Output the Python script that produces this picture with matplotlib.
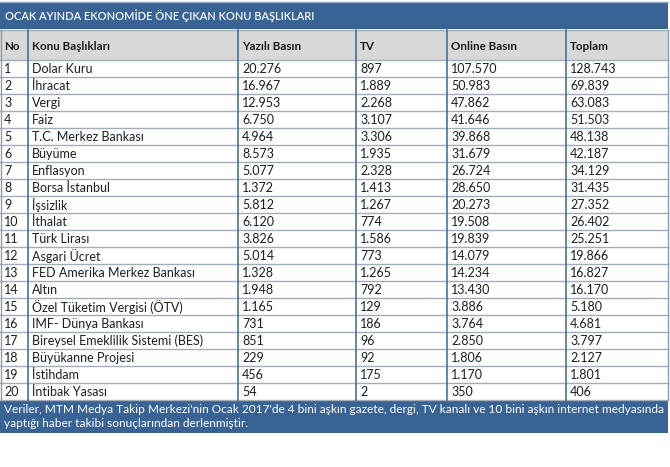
import matplotlib
matplotlib.use("Agg")
import matplotlib.pyplot as plt
from matplotlib.patches import Rectangle

title = "OCAK AYINDA EKONOMİDE ÖNE ÇIKAN KONU BAŞLIKLARI"
headers = ["No", "Konu Başlıkları", "Yazılı Basın", "TV", "Online Basın", "Toplam"]
numbers = [str(i) for i in range(1, 21)]
topics = ["Dolar Kuru", "İhracat", "Vergi", "Faiz", "T.C. Merkez Bankası", "Büyüme",
          "Enflasyon", "Borsa İstanbul", "İşsizlik", "İthalat", "Türk Lirası",
          "Asgari Ücret", "FED Amerika Merkez Bankası", "Altın",
          "Özel Tüketim Vergisi (ÖTV)", "IMF- Dünya Bankası",
          "Bireysel Emeklilik Sistemi (BES)", "Büyükanne Projesi", "İstihdam",
          "İntibak Yasası"]
yazili = ["20.276", "16.967", "12.953", "6.750", "4.964", "8.573", "5.077", "1.372",
          "5.812", "6.120", "3.826", "5.014", "1.328", "1.948", "1.165", "731", "851",
          "229", "456", "54"]
tv = ["897", "1.889", "2.268", "3.107", "3.306", "1.935", "2.328", "1.413", "1.267",
      "774", "1.586", "773", "1.265", "792", "129", "186", "96", "92", "175", "2"]
online = ["107.570", "50.983", "47.862", "41.646", "39.868", "31.679", "26.724",
          "28.650", "20.273", "19.508", "19.839", "14.079", "14.234", "13.430",
          "3.886", "3.764", "2.850", "1.806", "1.170", "350"]
toplam = ["128.743", "69.839", "63.083", "51.503", "48.138", "42.187", "34.129",
          "31.435", "27.352", "26.402", "25.251", "19.866", "16.827", "16.170",
          "5.180", "4.681", "3.797", "2.127", "1.801", "406"]
footer = ("Veriler, MTM Medya Takip Merkezi'nin Ocak 2017'de 4 bini aşkın gazete, dergi, TV kanalı ve 10 bini aşkın internet medyasında\n"
          "yaptığı haber takibi sonuçlarından derlenmiştir.")

W, H = 670, 467
fig = plt.figure(figsize=(6.7, 4.67), dpi=100)
ax = fig.add_axes([0, 0, 1, 1])
ax.set_xlim(0, W)
ax.set_ylim(H, 0)
ax.axis("off")

FONT = "Lato"
blue = "#3a6395"
txt = "#1e1e1e"
col_x = [0, 28, 238, 356, 447, 566, 668]
title_top, title_bot = 2, 29
head_top, head_bot = 30, 60
row_h = 17.0
foot_top, foot_bot = 400, 433

# title bar
ax.add_patch(Rectangle((0, title_top), 668, title_bot - title_top, facecolor=blue, edgecolor="none"))
ax.plot([0, 668], [title_top, title_top], color="#8fa6c4", lw=1)
ax.text(5, (title_top + title_bot) / 2 + 0.5, title, color="white", fontsize=7.9,
        family=FONT, weight="semibold", va="center", ha="left")

# header
ax.add_patch(Rectangle((0, head_top), 668, head_bot - head_top, facecolor="#d8d8d8", edgecolor="none"))
for i, h in enumerate(headers):
    ax.text(col_x[i] + 4, (head_top + head_bot) / 2 + 1.5, h, color=txt, fontsize=8.4,
            family=FONT, weight="bold", va="center", ha="left")

# rows
cols = [numbers, topics, yazili, tv, online, toplam]
for r in range(len(topics)):
    y0 = head_bot + r * row_h
    for c, values in enumerate(cols):
        ax.text(col_x[c] + 4, y0 + row_h / 2 + 0.5, values[r], color=txt, fontsize=9.0,
                family=FONT, va="center", ha="left")
    ax.plot([0, 668], [y0 + row_h, y0 + row_h], color="#a3adb8", lw=1)

ax.plot([0, 668], [head_bot, head_bot], color="#a3adb8", lw=1)
ax.plot([0, 668], [head_top, head_top], color="#a3adb8", lw=1)
for x in col_x[1:-1]:
    ax.plot([x, x], [head_top, foot_top], color="#4f6e98", lw=1.2)
ax.plot([0.5, 0.5], [head_top, foot_top], color="#8a9cb4", lw=1)
ax.plot([667.5, 667.5], [head_top, foot_top], color="#8a9cb4", lw=1)

# footer
ax.add_patch(Rectangle((0, foot_top), 668, foot_bot - foot_top, facecolor=blue, edgecolor="none"))
ax.text(4, (foot_top + foot_bot) / 2, footer, color="white", fontsize=8.55, family=FONT,
        va="center", ha="left", linespacing=1.25)

fig.savefig("out.png", dpi=100)
